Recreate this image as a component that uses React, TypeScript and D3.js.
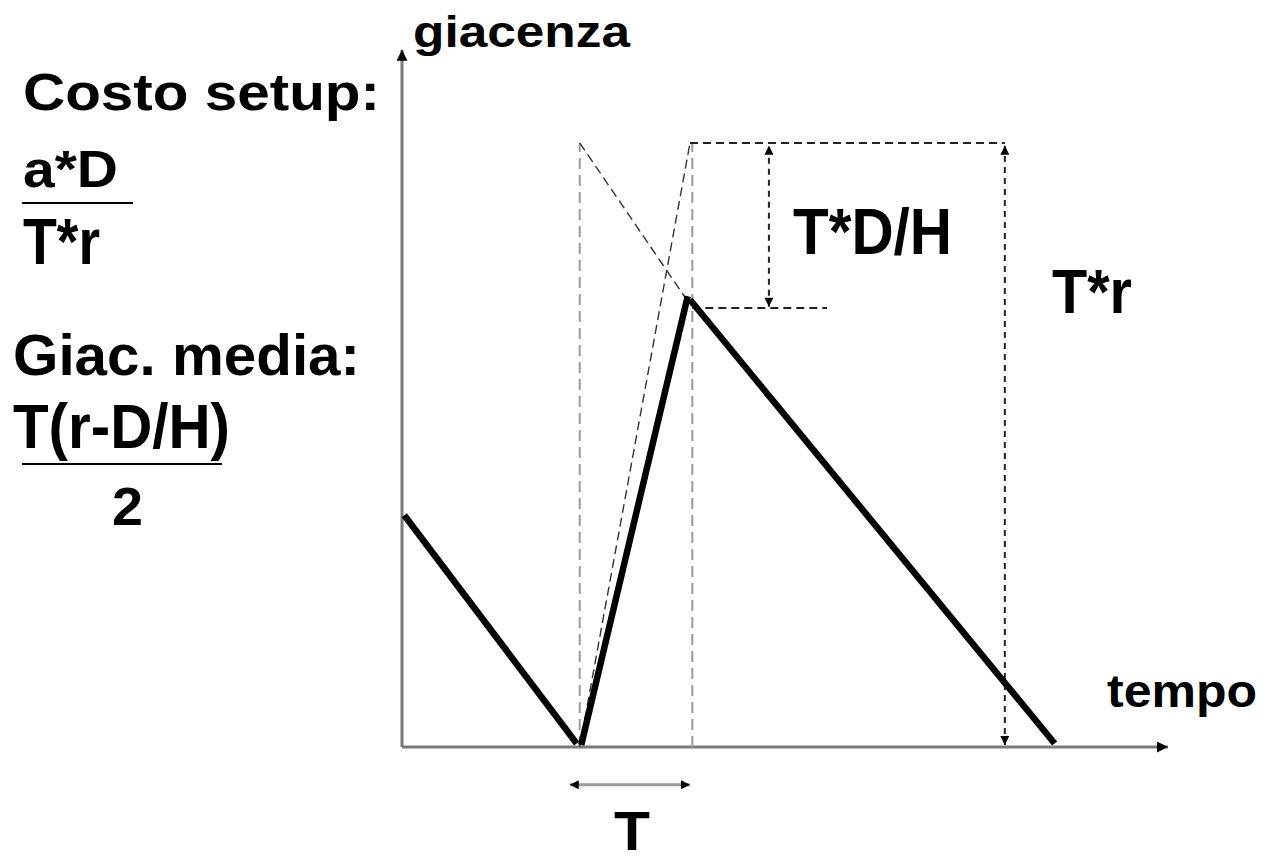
import React from 'react';
import * as d3 from 'd3';

// inventory sawtooth, [time %, stock %]
const stockSegments: [number, number][][] = [
  [[0.3, 33.1], [22.8, 0.5]],
  [[23.4, 0.3], [37.3, 64.4]],
  [[37.6, 63.9], [85.2, 0.5]],
];

// dashed construction lines
const gridVerticals = [23.2, 37.9];
const topLevel = 86.3;
const slopeGuides: [number, number][][] = [
  [[23.2, 86.3], [37.6, 63.2]],
  [[23.2, 0], [37.6, 86.3]],
];
const levelGuides = [
  { level: 86.3, from: 37.6, to: 78.7 },
  { level: 62.7, from: 37.9, to: 55.5 },
];
const measureArrows = [
  { t: 47.9, from: 62.9, to: 85.9 },
  { t: 78.7, from: 0.3, to: 85.9 },
];
const periodArrow = { from: 21.9, to: 37.6, level: -5.4 };

const axisLabels = ['giacenza', 'tempo'];
const markLabels = ['T*D/H', 'T*r', 'T'];
const formulaLabels = ['Costo setup:', 'a*D', 'T*r', 'Giac. media:', 'T(r-D/H)', '2'];

const W = 1273;
const H = 863;
const FONT = '"Liberation Sans", Arial, Helvetica, sans-serif';

const App: React.FC = () => {
  const x = d3.scaleLinear().domain([0, 100]).range([402, 1168]);
  const y = d3.scaleLinear().domain([0, 100]).range([747, 47]);
  const line = d3.line<[number, number]>().x(d => x(d[0])).y(d => y(d[1]));

  const txt = (s: string, px: number, py: number, size: number, len: number) => (
    <text
      x={px}
      y={py}
      fontSize={size}
      fontWeight="bold"
      fontFamily={FONT}
      textLength={len}
      lengthAdjust="spacingAndGlyphs"
      fill="#000"
    >
      {s}
    </text>
  );

  return (
    <svg
      width={W}
      height={H}
      style={{ position: 'absolute', left: 0, top: 0, background: '#fff' }}
    >
      <defs>
        <marker id="head" viewBox="0 0 10 10" refX="10" refY="5" markerWidth="11" markerHeight="11"
          markerUnits="userSpaceOnUse" orient="auto-start-reverse">
          <path d="M0,0 L10,5 L0,10 z" fill="#000" />
        </marker>
        <marker id="smallHead" viewBox="0 0 10 10" refX="10" refY="5" markerWidth="10" markerHeight="9"
          markerUnits="userSpaceOnUse" orient="auto-start-reverse">
          <path d="M0,0 L10,5 L0,10 z" fill="#000" />
        </marker>
      </defs>

      {/* axes */}
      <line x1={x(0)} y1={y(0)} x2={x(0)} y2={y(99.6)} stroke="#7a7a7a" strokeWidth={3} markerEnd="url(#head)" />
      <line x1={x(0)} y1={y(0)} x2={x(100)} y2={y(0)} stroke="#7a7a7a" strokeWidth={3} markerEnd="url(#head)" />

      {/* gray dashed verticals */}
      {gridVerticals.map((t, i) => (
        <line key={'v' + i} x1={x(t)} y1={y(0)} x2={x(t)} y2={y(topLevel)}
          stroke="#9a9a9a" strokeWidth={2} strokeDasharray="11 6" />
      ))}

      {/* dashed slopes */}
      {slopeGuides.map((s, i) => (
        <path key={'s' + i} d={line(s) || ''} fill="none" stroke="#333" strokeWidth={1.4} strokeDasharray="9 5" />
      ))}

      {/* dashed levels */}
      {levelGuides.map((g, i) => (
        <line key={'l' + i} x1={x(g.from)} y1={y(g.level)} x2={x(g.to)} y2={y(g.level)}
          stroke="#222" strokeWidth={2} strokeDasharray="8 5" />
      ))}

      {/* dashed measure arrows */}
      {measureArrows.map((a, i) => (
        <line key={'a' + i} x1={x(a.t)} y1={y(a.from)} x2={x(a.t)} y2={y(a.to)}
          stroke="#222" strokeWidth={2} strokeDasharray="6 5"
          markerStart="url(#smallHead)" markerEnd="url(#smallHead)" />
      ))}

      {/* period T arrow */}
      <line x1={x(periodArrow.from)} y1={y(periodArrow.level)} x2={x(periodArrow.to)} y2={y(periodArrow.level)}
        stroke="#9a9a9a" strokeWidth={3} markerStart="url(#smallHead)" markerEnd="url(#smallHead)" />

      {/* inventory level */}
      {stockSegments.map((s, i) => (
        <path key={'k' + i} d={line(s) || ''} fill="none" stroke="#000" strokeWidth={6.5} strokeLinecap="butt" />
      ))}

      {/* axis & mark labels */}
      {txt(axisLabels[0], 413, 47, 44, 217)}
      {txt(axisLabels[1], 1107, 707, 46, 150)}
      {txt(markLabels[0], 793, 254, 64, 159)}
      {txt(markLabels[1], 1052, 313, 63, 80)}
      {txt(markLabels[2], 614, 850, 56, 36)}

      {/* formulas on the left */}
      {txt(formulaLabels[0], 23, 110, 52, 357)}
      {txt(formulaLabels[1], 23, 187, 52, 95)}
      <line x1={22} y1={203} x2={133} y2={203} stroke="#000" strokeWidth={2} />
      {txt(formulaLabels[2], 23, 264, 65, 77)}
      {txt(formulaLabels[3], 13, 375, 58, 347)}
      {txt(formulaLabels[4], 13, 448, 63, 217)}
      <line x1={22} y1={464} x2={222} y2={464} stroke="#000" strokeWidth={2} />
      {txt(formulaLabels[5], 112, 525, 54, 31)}
    </svg>
  );
};

export default App;
